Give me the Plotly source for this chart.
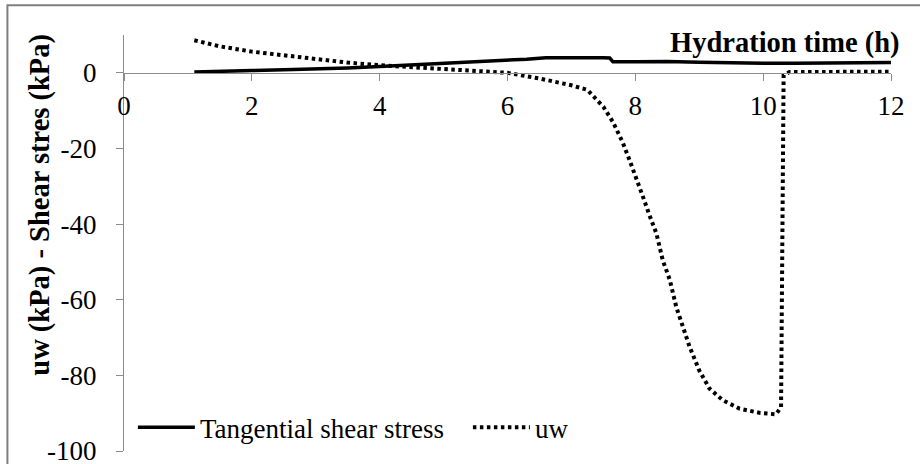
import plotly.graph_objects as go

# Tangential shear stress (kPa) vs hydration time (h)
shear_time = [1.1, 1.5, 2.0, 2.5, 3.0, 3.5, 4.0, 4.5, 5.0, 5.5, 6.0, 6.3, 6.6, 7.0,
              7.5, 7.6, 7.65, 8.0, 8.5, 9.0, 9.5, 10.0, 10.5, 11.0, 11.5, 12.0]
shear_val = [0.2, 0.3, 0.6, 0.8, 1.0, 1.3, 1.7, 2.1, 2.6, 2.9, 3.2, 3.6, 4.0, 4.1,
             4.0, 3.9, 2.9, 2.9, 3.0, 2.8, 2.6, 2.5, 2.5, 2.6, 2.6, 2.7]

# uw (kPa) vs hydration time (h)
uw_time = [1.1, 1.5, 2.0, 2.5, 3.0, 3.5, 4.0, 4.5, 5.0, 5.5, 6.0, 6.5, 7.0, 7.25,
           7.5, 7.65, 7.8, 7.91, 8.02, 8.12, 8.22, 8.33, 8.43, 8.54, 8.64, 8.74,
           8.85, 9.0, 9.16, 9.37, 9.63, 9.94, 10.2, 10.28, 10.3, 10.32, 10.41,
           11.0, 12.0]
uw_val = [8.6, 7.0, 5.6, 4.6, 3.6, 2.7, 2.0, 1.5, 1.0, 0.5, 0.0, -1.5, -3.3, -4.5,
          -9.0, -13.0, -18.3, -23.1, -27.9, -32.8, -37.6, -42.5, -49.6, -54.8,
          -61.9, -67.2, -72.5, -78.7, -83.5, -86.6, -88.8, -89.9, -90.3, -88.4,
          -40.0, -0.6, 0.2, 0.3, 0.3]

x_ticks = [0, 2, 4, 6, 8, 10, 12]
y_ticks = [-100, -80, -60, -40, -20, 0]
y_range = [-100, 10]

FONT = "Liberation Serif"
AXIS_GREY = "#8c8c8c"
tick_font = dict(family=FONT, size=27, color="black")
title_font = dict(family=FONT, size=28.5, color="black")

fig = go.Figure()
fig.add_trace(go.Scatter(x=shear_time, y=shear_val, mode="lines",
                         name="Tangential shear stress",
                         line=dict(color="black", width=3.5)))
fig.add_trace(go.Scatter(x=uw_time, y=uw_val, mode="lines", name="uw",
                         line=dict(color="black", width=4, dash="3.5px,3.5px")))

fig.update_layout(
    width=920, height=464,
    margin=dict(l=124, r=29, t=35, b=13),
    paper_bgcolor="white", plot_bgcolor="white",
    font=dict(family=FONT, size=27, color="black"),
    showlegend=True,
    legend=dict(orientation="h", x=0.0116, y=0.056, xanchor="left", yanchor="middle",
                bgcolor="rgba(0,0,0,0)", font=tick_font, itemwidth=57,
                entrywidth=263, entrywidthmode="pixels",
                traceorder="normal"),
    xaxis=dict(range=[0, 12], tickvals=x_ticks, ticktext=[str(v) for v in x_ticks],
               showgrid=False, zeroline=False, automargin=False,
               showline=True, linecolor=AXIS_GREY, linewidth=1,
               ticks="outside", ticklen=7, tickcolor=AXIS_GREY, tickfont=tick_font,
               anchor="free", position=(0 - y_range[0]) / (y_range[1] - y_range[0]),
               ticklabelstandoff=2, ticklabeloverflow="allow"),
    yaxis=dict(range=y_range, tickvals=y_ticks, ticktext=[str(v) for v in y_ticks],
               showgrid=False, zeroline=False, automargin=False,
               showline=True, linecolor=AXIS_GREY, linewidth=1,
               ticks="outside", ticklen=7, tickcolor=AXIS_GREY, tickfont=tick_font,
               ticklabelstandoff=14, ticklabeloverflow="allow"),
)

# axis titles as annotations (Excel-style placement)
fig.add_annotation(text="<b>Hydration time (h)</b>", xref="paper", yref="paper",
                   x=1.0143, y=0.98, xanchor="right", yanchor="middle",
                   showarrow=False, font=title_font)
fig.add_annotation(text="<b>uw (kPa) - Shear stres (kPa)</b>", xref="paper", yref="paper",
                   x=-0.109, y=0.593, xanchor="center", yanchor="middle",
                   textangle=-90, showarrow=False, font=title_font)

# grey frame on the top and left edges of the image
fig.add_shape(type="path", xref="paper", yref="paper",
              path="M -0.152,-0.05 L -0.152,1.0715 L 1.05,1.0715",
              line=dict(color="#7f7f7f", width=2))

fig.write_html("out.html", config={"displayModeBar": False},
               post_script="document.body.style.margin='0';")
